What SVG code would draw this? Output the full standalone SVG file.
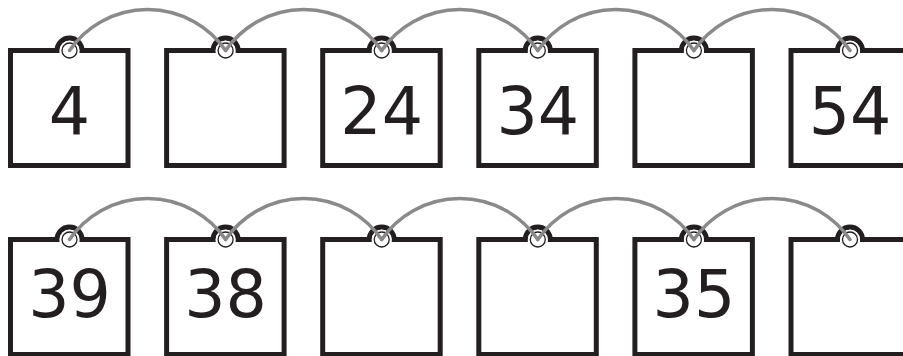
<svg xmlns="http://www.w3.org/2000/svg" xmlns:xlink="http://www.w3.org/1999/xlink" width="903" height="356" viewBox="0 0 903 356">
<style>
.tag{fill:#fff;stroke:#231f20;stroke-width:5;stroke-linejoin:miter}
.hole{fill:#fff;stroke:none}
.ring{fill:none;stroke:#231f20;stroke-width:1.3}
.num{font-family:"DejaVu Sans","Liberation Sans",sans-serif;font-size:65px;fill:#231f20;text-anchor:middle}
.link{fill:none;stroke:#8a8a8a;stroke-width:3.5;stroke-linecap:round}
</style>
<defs>
<g id="tagShape">
<path class="tag" d="M0,0 H46.5 A12.5 12.5 0 0 1 71.5,0 H117.5 V115 H0 Z"/>
<circle class="hole" cx="59" cy="0" r="9.8"/>
<circle class="ring" cx="59" cy="0" r="7.5"/>
</g>
</defs>
<g id="nodes">
<g id="r1n1"><use xlink:href="#tagShape" transform="translate(10.5,50.5)"/><text class="num" x="69.5" y="134">4</text></g>
<g id="r1n2"><use xlink:href="#tagShape" transform="translate(166.6,50.5)"/></g>
<g id="r1n3"><use xlink:href="#tagShape" transform="translate(322.7,50.5)"/><text class="num" x="381.7" y="134">24</text></g>
<g id="r1n4"><use xlink:href="#tagShape" transform="translate(478.8,50.5)"/><text class="num" x="537.8" y="134">34</text></g>
<g id="r1n5"><use xlink:href="#tagShape" transform="translate(634.9,50.5)"/></g>
<g id="r1n6"><use xlink:href="#tagShape" transform="translate(791,50.5)"/><text class="num" x="850" y="134">54</text></g>
<g id="r2n1"><use xlink:href="#tagShape" transform="translate(10.5,239.5)"/><text class="num" x="69.5" y="317">39</text></g>
<g id="r2n2"><use xlink:href="#tagShape" transform="translate(166.6,239.5)"/><text class="num" x="225.6" y="317">38</text></g>
<g id="r2n3"><use xlink:href="#tagShape" transform="translate(322.7,239.5)"/></g>
<g id="r2n4"><use xlink:href="#tagShape" transform="translate(478.8,239.5)"/></g>
<g id="r2n5"><use xlink:href="#tagShape" transform="translate(634.9,239.5)"/><text class="num" x="693.9" y="317">35</text></g>
<g id="r2n6"><use xlink:href="#tagShape" transform="translate(791,239.5)"/></g>
</g>
<g id="connectors">
<path class="link" d="M69.5,50.5 A94.8 94.8 0 0 1 225.6,50.5"/>
<path class="link" d="M225.6,50.5 A94.8 94.8 0 0 1 381.7,50.5"/>
<path class="link" d="M381.7,50.5 A94.8 94.8 0 0 1 537.8,50.5"/>
<path class="link" d="M537.8,50.5 A94.8 94.8 0 0 1 693.9,50.5"/>
<path class="link" d="M693.9,50.5 A94.8 94.8 0 0 1 850,50.5"/>
<path class="link" d="M69.5,239.5 A94.8 94.8 0 0 1 225.6,239.5"/>
<path class="link" d="M225.6,239.5 A94.8 94.8 0 0 1 381.7,239.5"/>
<path class="link" d="M381.7,239.5 A94.8 94.8 0 0 1 537.8,239.5"/>
<path class="link" d="M537.8,239.5 A94.8 94.8 0 0 1 693.9,239.5"/>
<path class="link" d="M693.9,239.5 A94.8 94.8 0 0 1 850,239.5"/>
</g>
</svg>
